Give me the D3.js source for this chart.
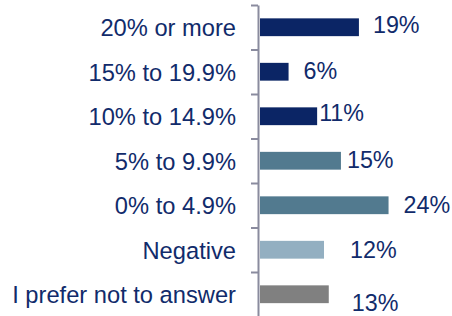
<!DOCTYPE html>
<html>
<head>
<meta charset="utf-8">
<script src="https://cdn.jsdelivr.net/npm/d3@7"></script>
<style>
    body { margin: 0; background: #fff; }
    text { font-family: "Liberation Sans", Arial, sans-serif; fill: #112b6b; }
</style>
</head>
<body>
<script>
// Categories, top to bottom
var categories = ["20% or more", "15% to 19.9%", "10% to 14.9%", "5% to 9.9%",
    "0% to 4.9%", "Negative", "I prefer not to answer"];

// Bar lengths (percent)
var values = [18.7, 5.4, 10.8, 15.3, 24.3, 12.1, 13.0];

// Printed value labels
var valueLabels = ["19%", "6%", "11%", "15%", "24%", "12%", "13%"];

// Colour group of each bar
var groups = ["high", "high", "high", "mid", "mid", "neg", "na"];

function drawChart() {
    var width = 452,
        height = 316;

    var svg = d3.select("body")
        .append("svg")
        .attr("width", width)
        .attr("height", height);

    var color = d3.scaleOrdinal()
        .domain(["high", "mid", "neg", "na"])
        .range(["#0b2565", "#527a8f", "#93afc1", "#808080"]);

    // Vertical band scale for the categories
    var y = d3.scaleBand()
        .domain(categories)
        .range([5, 316.5])
        .paddingInner(0.6)
        .paddingOuter(0.3);

    var x = d3.scaleLinear()
        .domain([0, 25])
        .range([260, 260 + 25 * 5.29]);

    // Axis with ticks on the band boundaries
    var boundary = d3.scaleLinear()
        .domain([0, categories.length])
        .range([5, 316.5]);

    var axis = svg.append("g")
        .attr("class", "axis")
        .attr("transform", "translate(258,0)")
        .call(d3.axisLeft(boundary)
            .tickValues(d3.range(categories.length + 1))
            .tickSize(7)
            .tickSizeOuter(0)
            .tickFormat(""));
    axis.selectAll("path, line")
        .attr("stroke", "#8a8b9e")
        .attr("stroke-width", 2);

    // Bars
    svg.selectAll(".bar")
        .data(values)
        .enter()
        .append("rect")
        .attr("class", "bar")
        .attr("x", x(0))
        .attr("y", function(d, i) { return y(categories[i]); })
        .attr("width", function(d) { return x(d) - x(0); })
        .attr("height", y.bandwidth())
        .attr("fill", function(d, i) { return color(groups[i]); });

    // Category labels
    svg.selectAll(".cat")
        .data(categories)
        .enter()
        .append("text")
        .attr("class", "cat")
        .attr("x", 236)
        .attr("y", function(d) { return y(d) + y.bandwidth() / 2; })
        .attr("dy", "0.37em")
        .attr("text-anchor", "end")
        .style("font-size", "23.7px")
        .text(function(d) { return d; });

    // Value labels: the original places them by hand, nudges are layout only
    var nudge = [[14, -3], [15, -1], [2, -3.5], [6, -1.6], [15, -1], [26, 0], [23, 8.5]];

    svg.selectAll(".val")
        .data(values)
        .enter()
        .append("text")
        .attr("class", "val")
        .attr("x", function(d, i) { return x(d) + nudge[i][0]; })
        .attr("y", function(d, i) { return y(categories[i]) + y.bandwidth() / 2 + nudge[i][1]; })
        .attr("dy", "0.36em")
        .style("font-size", "23.3px")
        .text(function(d, i) { return valueLabels[i]; });
}

drawChart();
</script>
</body>
</html>
